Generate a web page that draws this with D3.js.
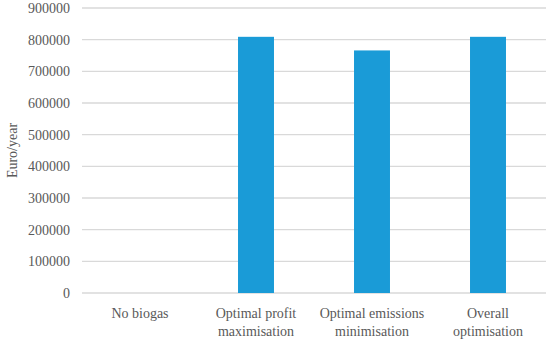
<!DOCTYPE html>
<html>
<head>
<meta charset="utf-8">
<script src="https://cdn.jsdelivr.net/npm/d3@7"></script>
<style>
body { margin: 0; background: #fff; }
text { font-family: "Liberation Serif", "DejaVu Serif", serif; fill: #595959; }
</style>
</head>
<body>
<script>
var categories = [["No biogas"], ["Optimal profit", "maximisation"], ["Optimal emissions", "minimisation"], ["Overall", "optimisation"]];
var values = [0, 809000, 766000, 809000];
var yTicks = [0, 100000, 200000, 300000, 400000, 500000, 600000, 700000, 800000, 900000];

var width = 550, height = 343;
var plotLeft = 82, plotRight = 546, plotTop = 8, plotBottom = 293;

var svg = d3.select("body").append("svg")
.attr("width", width)
.attr("height", height);

var x = d3.scaleBand()
.domain(d3.range(categories.length))
.range([plotLeft, plotRight])
.paddingInner(0.69)
.paddingOuter(0.345);

var y = d3.scaleLinear()
.domain([0, 900000])
.range([plotBottom, plotTop]);

// gridlines
svg.append("g")
.selectAll("line")
.data(yTicks)
.join("line")
.attr("x1", plotLeft)
.attr("x2", plotRight)
.attr("y1", d => y(d))
.attr("y2", d => y(d))
.attr("stroke", "#d9d9d9")
.attr("stroke-width", 1.3);

// tick labels
svg.append("g")
.selectAll("text")
.data(yTicks)
.join("text")
.attr("x", 70)
.attr("y", d => y(d))
.attr("dy", "0.35em")
.attr("text-anchor", "end")
.attr("font-size", 14)
.text(d => d);

// bars
svg.append("g")
.selectAll("rect")
.data(values)
.join("rect")
.attr("x", (d, i) => x(i))
.attr("width", x.bandwidth())
.attr("y", d => y(d))
.attr("height", d => y(0) - y(d))
.attr("fill", "#1a9bd7");

// category labels
var cat = svg.append("g")
.selectAll("text")
.data(categories)
.join("text")
.attr("x", (d, i) => x(i) + x.bandwidth() / 2)
.attr("y", 318)
.attr("text-anchor", "middle")
.attr("font-size", 14);

cat.selectAll("tspan")
.data(d => d)
.join("tspan")
.attr("x", function () { return d3.select(this.parentNode).attr("x"); })
.attr("dy", (d, i) => i === 0 ? 0 : 18)
.text(d => d);

// axis title
svg.append("text")
.attr("transform", "translate(17," + ((plotTop + plotBottom) / 2) + ") rotate(-90)")
.attr("text-anchor", "middle")
.attr("font-size", 14)
.text("Euro/year");
</script>
</body>
</html>
